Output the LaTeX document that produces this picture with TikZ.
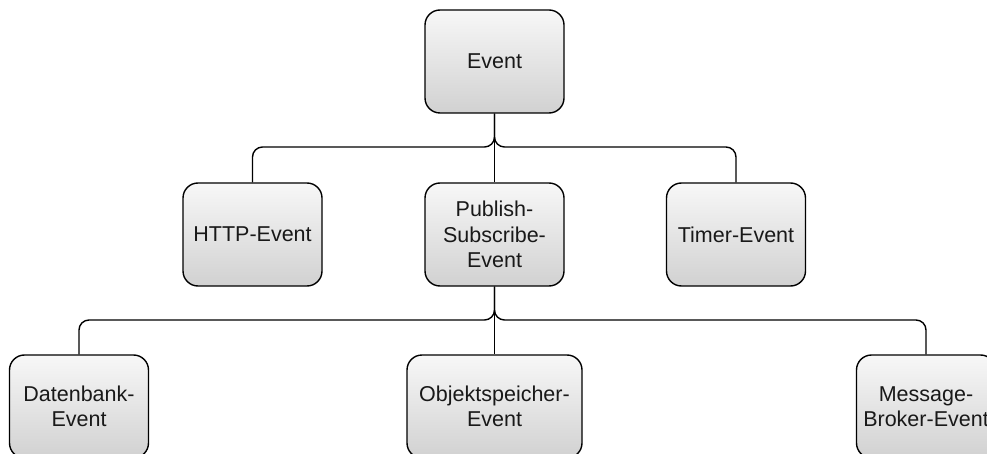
\documentclass[tikz,border=0pt]{standalone}
\usepackage{fontspec}
\setmainfont{Liberation Sans}
\usetikzlibrary{calc}
\begin{document}
\begin{tikzpicture}[x=1pt,y=-1pt,
  evbox/.style={rectangle, rounded corners=15pt, draw=black, line width=1.4pt,
    top color=black!3, bottom color=black!18, shading angle=0,
    minimum width=139pt, minimum height=103pt, inner sep=2pt,
    align=center, text=black!90,
    font=\fontsize{21.5}{25.5}\selectfont},
  link/.style={draw=black, line width=1.4pt, rounded corners=10pt}]
  \useasboundingbox (0,0) rectangle (987,454);
  \clip (0,0) rectangle (987,454);

  % top level
  \node[evbox] (ev) at (494.5,61.5) {Event};

  % second level
  \node[evbox] (http)  at (252.5,234.5) {HTTP-Event};
  \node[evbox] (pub)   at (494.5,234.5) {Publish-\\Subscribe-\\Event};
  \node[evbox] (timer) at (736,234.5) {Timer-Event};

  % third level
  \node[evbox] (db)  at (79,406.5) {Datenbank-\\Event};
  \node[evbox, minimum width=175pt] (obj) at (494.5,406.5) {Objektspeicher-\\Event};
  \node[evbox] (mb)  at (926,406.5) {Message-\\Broker-Event};

  % junction points of the tree
  \coordinate (j1) at (494.5,147);
  \coordinate (j2) at (494.5,320);

  % connectors
  \draw[link] (ev.south) -- (j1) -| (http.north);
  \draw[link] (ev.south) -- (j1) -| (timer.north);
  \draw[link] (ev.south) -- (pub.north);

  \draw[link] (pub.south) -- (j2) -| (db.north);
  \draw[link] (pub.south) -- (j2) -| (mb.north);
  \draw[link] (pub.south) -- (obj.north);
\end{tikzpicture}
\end{document}
